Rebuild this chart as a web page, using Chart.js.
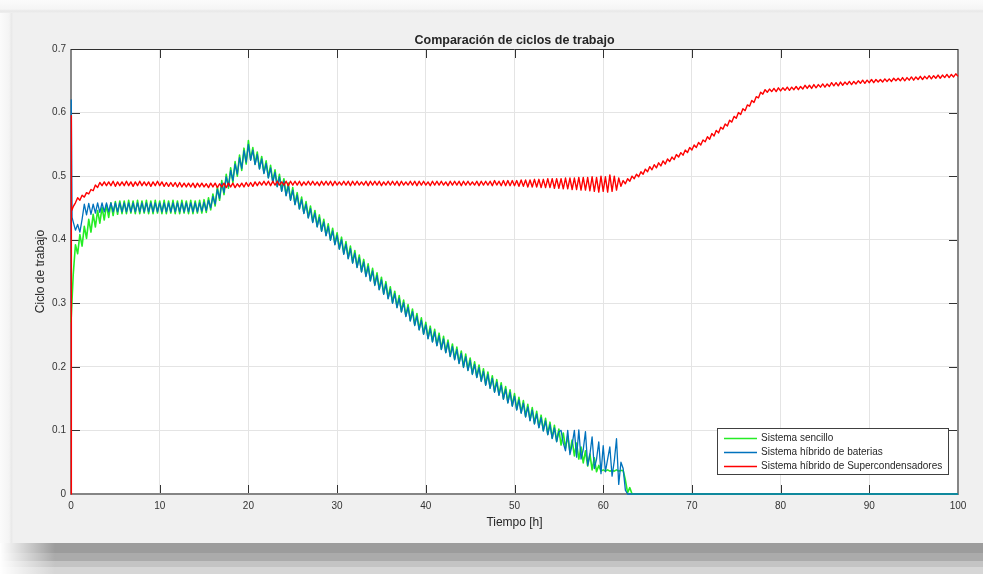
<!DOCTYPE html>
<html lang="es">
<head>
<meta charset="utf-8">
<title>Comparación de ciclos de trabajo</title>
<script src="https://cdn.jsdelivr.net/npm/chart.js@4/dist/chart.umd.min.js"></script>
<style>
  html, body { margin: 0; padding: 0; background: #ffffff; }
  canvas { display: block; }
</style>
</head>
<body>
<canvas id="grafico" width="983" height="574"></canvas>
<script>
// Muestreo uniforme de las señales simuladas (horas)
const INICIO_H = 0.25;
const PASO_H = 0.25;

const ticksTiempo = [0, 10, 20, 30, 40, 50, 60, 70, 80, 90, 100];
const ticksCiclo = [0, 0.1, 0.2, 0.3, 0.4, 0.5, 0.6, 0.7];

const nombresSeries = [
  'Sistema sencillo',
  'Sistema híbrido de baterias',
  'Sistema híbrido de Supercondensadores'
];

// Transitorio de arranque (t, ciclo) antes del primer instante muestreado
const arranqueSencillo = [[0, 0.27]];
const arranqueBaterias = [[0, 0.30], [0.03, 0.62], [0.12, 0.435]];
const arranqueSupercond = [[0, 0], [0.01, 0.595], [0.07, 0.445]];

// Ciclo de trabajo, sistema sencillo (desde INICIO_H cada PASO_H)
const cicloSencillo = [
  // 0.25 – 5.75 h
  0.345, 0.392, 0.378, 0.408, 0.390, 0.421, 0.402, 0.432, 0.412, 0.440,
  0.420, 0.446, 0.426, 0.451, 0.431, 0.455, 0.435, 0.458, 0.438, 0.460,
  0.440, 0.461, 0.441,
  // 6 – 15.25 h
  0.461, 0.441, 0.462, 0.442, 0.461, 0.441, 0.462, 0.441, 0.461, 0.442,
  0.462, 0.441, 0.461, 0.441, 0.462, 0.442, 0.461, 0.441, 0.462, 0.441,
  0.461, 0.442, 0.462, 0.441, 0.461, 0.441, 0.462, 0.442, 0.461, 0.441,
  0.462, 0.441, 0.461, 0.442, 0.462, 0.442, 0.463, 0.443,
  // 15.5 – 20 h
  0.466, 0.447, 0.472, 0.453, 0.483, 0.462, 0.493, 0.471, 0.503, 0.481,
  0.513, 0.490, 0.523, 0.500, 0.533, 0.509, 0.544, 0.519, 0.556,
  // 20.25 – 40 h
  0.526, 0.545, 0.519, 0.538, 0.512, 0.531, 0.505, 0.524, 0.498, 0.517,
  0.491, 0.510, 0.484, 0.503, 0.477, 0.496, 0.470, 0.489, 0.463, 0.482,
  0.456, 0.474, 0.449, 0.467, 0.442, 0.460, 0.435, 0.453, 0.428, 0.446,
  0.421, 0.439, 0.414, 0.432, 0.407, 0.425, 0.400, 0.418, 0.393, 0.411,
  0.386, 0.404, 0.378, 0.397, 0.371, 0.390, 0.364, 0.383, 0.357, 0.376,
  0.350, 0.369, 0.343, 0.362, 0.336, 0.355, 0.329, 0.348, 0.322, 0.341,
  0.315, 0.334, 0.308, 0.326, 0.301, 0.319, 0.294, 0.312, 0.287, 0.305,
  0.280, 0.298, 0.273, 0.291, 0.266, 0.284, 0.259, 0.277, 0.252, 0.270,
  // 40.25 – 59.5 h
  0.245, 0.264, 0.240, 0.259, 0.234, 0.253, 0.228, 0.248, 0.223, 0.242,
  0.217, 0.236, 0.212, 0.231, 0.206, 0.225, 0.200, 0.220, 0.195, 0.214,
  0.189, 0.208, 0.184, 0.203, 0.178, 0.197, 0.172, 0.192, 0.167, 0.186,
  0.161, 0.180, 0.156, 0.175, 0.150, 0.169, 0.144, 0.164, 0.139, 0.158,
  0.133, 0.152, 0.128, 0.147, 0.122, 0.141, 0.116, 0.136, 0.111, 0.130,
  0.105, 0.124, 0.100, 0.119, 0.094, 0.113, 0.088, 0.108, 0.083, 0.102,
  0.077, 0.096, 0.072, 0.091, 0.066, 0.085, 0.060, 0.080, 0.055, 0.074,
  0.049, 0.068, 0.044, 0.063, 0.038, 0.057, 0.035, 0.045,
  // 59.75 – 62.25 h
  0.036, 0.038, 0.036, 0.038, 0.036, 0.037, 0.036, 0.038, 0.036, 0.037,
  0.037,
  // 62.5 – 63.25 h
  0.022, 0.002, 0.010, 0
];

// Ciclo de trabajo, sistema híbrido de baterías
const cicloBaterias = [
  // 0.25 – 5.75 h
  0.428, 0.415, 0.424, 0.412, 0.432, 0.456, 0.439, 0.457, 0.440, 0.456,
  0.442, 0.458, 0.443, 0.458, 0.444, 0.458, 0.444, 0.458, 0.444, 0.458,
  0.444, 0.458, 0.444,
  // 6 – 15.25 h
  0.458, 0.444, 0.458, 0.444, 0.458, 0.444, 0.458, 0.444, 0.458, 0.444,
  0.458, 0.444, 0.458, 0.444, 0.458, 0.444, 0.458, 0.444, 0.458, 0.444,
  0.458, 0.444, 0.458, 0.444, 0.458, 0.444, 0.458, 0.444, 0.458, 0.444,
  0.458, 0.444, 0.458, 0.444, 0.458, 0.445, 0.459, 0.446,
  // 15.5 – 20 h
  0.462, 0.450, 0.468, 0.456, 0.479, 0.465, 0.489, 0.474, 0.499, 0.484,
  0.509, 0.493, 0.519, 0.503, 0.529, 0.512, 0.540, 0.522, 0.550,
  // 20.25 – 40 h
  0.525, 0.541, 0.518, 0.534, 0.511, 0.527, 0.504, 0.520, 0.497, 0.513,
  0.490, 0.506, 0.483, 0.499, 0.476, 0.492, 0.469, 0.485, 0.462, 0.478,
  0.455, 0.470, 0.448, 0.463, 0.441, 0.456, 0.434, 0.449, 0.427, 0.442,
  0.420, 0.435, 0.413, 0.428, 0.406, 0.421, 0.399, 0.414, 0.392, 0.407,
  0.385, 0.400, 0.377, 0.393, 0.370, 0.386, 0.363, 0.379, 0.356, 0.372,
  0.349, 0.365, 0.342, 0.358, 0.335, 0.351, 0.328, 0.344, 0.321, 0.337,
  0.314, 0.330, 0.307, 0.322, 0.300, 0.315, 0.293, 0.308, 0.286, 0.301,
  0.279, 0.294, 0.272, 0.287, 0.265, 0.280, 0.258, 0.273, 0.251, 0.266,
  // 40.25 – 55 h
  0.244, 0.260, 0.239, 0.255, 0.233, 0.249, 0.227, 0.244, 0.222, 0.238,
  0.216, 0.232, 0.211, 0.227, 0.205, 0.221, 0.199, 0.216, 0.194, 0.210,
  0.188, 0.204, 0.183, 0.199, 0.177, 0.193, 0.171, 0.188, 0.166, 0.182,
  0.160, 0.176, 0.155, 0.171, 0.149, 0.165, 0.143, 0.160, 0.138, 0.154,
  0.132, 0.148, 0.127, 0.143, 0.121, 0.137, 0.115, 0.132, 0.110, 0.126,
  0.104, 0.120, 0.099, 0.115, 0.093, 0.109, 0.087, 0.104, 0.082, 0.098,
  // 55.25 – 62.25 h (picos de conmutación)
  0.100, 0.080, 0.068, 0.100, 0.062, 0.078, 0.100, 0.058, 0.101, 0.055,
  0.070, 0.098, 0.045, 0.062, 0.090, 0.040, 0.055, 0.082, 0.032, 0.076,
  0.035, 0.055, 0.074, 0.028, 0.052, 0.087, 0.015, 0.050, 0.040,
  // 62.5 – 63.25 h
  0.006, 0, 0, 0
];

// Ciclo de trabajo, sistema híbrido de supercondensadores
const cicloSupercond = [
  // 0.25 – 3.75 h
  0.452, 0.458, 0.466, 0.462, 0.470, 0.467, 0.474, 0.472, 0.479, 0.477,
  0.486, 0.482, 0.490, 0.485, 0.491,
  // 4 – 12.75 h
  0.485, 0.491, 0.485, 0.492, 0.484, 0.491, 0.485, 0.491, 0.485, 0.492,
  0.485, 0.491, 0.484, 0.491, 0.485, 0.492, 0.485, 0.491, 0.485, 0.491,
  0.484, 0.491, 0.485, 0.492, 0.485, 0.491, 0.484, 0.490, 0.484, 0.490,
  0.484, 0.490, 0.483, 0.490, 0.483, 0.489,
  // 13 – 21.25 h
  0.483, 0.489, 0.483, 0.489, 0.482, 0.489, 0.483, 0.489, 0.483, 0.488,
  0.482, 0.489, 0.483, 0.489, 0.482, 0.488, 0.483, 0.489, 0.482, 0.489,
  0.483, 0.489, 0.482, 0.488, 0.483, 0.489, 0.483, 0.490, 0.484, 0.490,
  0.484, 0.491, 0.485, 0.491,
  // 21.5 – 49.75 h
  0.486, 0.492, 0.486, 0.492, 0.485, 0.492, 0.486, 0.492, 0.486, 0.491,
  0.486, 0.492, 0.485, 0.492, 0.486, 0.492, 0.486, 0.492, 0.485, 0.491,
  0.486, 0.492, 0.486, 0.492, 0.486, 0.491, 0.485, 0.492, 0.486, 0.492,
  0.486, 0.492, 0.485, 0.492, 0.486, 0.491, 0.486, 0.492, 0.486, 0.492,
  0.485, 0.492, 0.486, 0.492, 0.486, 0.491, 0.486, 0.492, 0.485, 0.492,
  0.486, 0.492, 0.486, 0.492, 0.485, 0.491, 0.486, 0.492, 0.486, 0.492,
  0.486, 0.492, 0.485, 0.492, 0.486, 0.491, 0.486, 0.492, 0.486, 0.492,
  0.485, 0.492, 0.486, 0.492, 0.486, 0.491, 0.485, 0.492, 0.486, 0.492,
  0.486, 0.492, 0.486, 0.491, 0.485, 0.492, 0.486, 0.492, 0.486, 0.492,
  0.485, 0.492, 0.486, 0.492, 0.486, 0.491, 0.486, 0.492, 0.485, 0.492,
  0.486, 0.492, 0.486, 0.492, 0.485, 0.493, 0.486, 0.492, 0.485, 0.493,
  0.485, 0.493, 0.485, 0.493,
  // 50 – 54.75 h
  0.485, 0.493, 0.484, 0.494, 0.484, 0.494, 0.483, 0.494, 0.483, 0.495,
  0.483, 0.495, 0.482, 0.495, 0.482, 0.496, 0.482, 0.496, 0.481, 0.496,
  // 55 – 57.75 h
  0.481, 0.496, 0.480, 0.497, 0.480, 0.497, 0.479, 0.497, 0.479, 0.498,
  0.478, 0.498,
  // 58 – 62 h
  0.478, 0.498, 0.477, 0.499, 0.476, 0.498, 0.475, 0.500, 0.476, 0.499,
  0.475, 0.502, 0.476, 0.500, 0.478, 0.497, 0.484,
  // 62.25 – 78 h
  0.493, 0.488, 0.496, 0.492, 0.500, 0.496, 0.503, 0.499, 0.507, 0.503,
  0.511, 0.507, 0.515, 0.510, 0.518, 0.513, 0.521, 0.516, 0.524, 0.519,
  0.527, 0.523, 0.530, 0.526, 0.534, 0.530, 0.537, 0.533, 0.541, 0.537,
  0.545, 0.541, 0.549, 0.545, 0.553, 0.549, 0.557, 0.554, 0.562, 0.558,
  0.567, 0.563, 0.572, 0.568, 0.577, 0.574, 0.582, 0.579, 0.588, 0.585,
  0.594, 0.591, 0.600, 0.597, 0.606, 0.603, 0.612, 0.610, 0.619, 0.616,
  0.625, 0.623, 0.632, 0.629,
  // 78.25 – 100 h
  0.636, 0.632, 0.637, 0.633,
  0.638, 0.633, 0.639, 0.634, 0.639, 0.635, 0.640, 0.635,
  0.640, 0.636, 0.641, 0.636, 0.641, 0.637, 0.643, 0.638,
  0.643, 0.638, 0.644, 0.639, 0.644, 0.640, 0.645, 0.640,
  0.645, 0.641, 0.647, 0.642, 0.647, 0.642, 0.648, 0.643,
  0.648, 0.644, 0.649, 0.644, 0.649, 0.645, 0.650, 0.646,
  0.651, 0.646, 0.651, 0.647, 0.652, 0.647, 0.652, 0.648,
  0.652, 0.648, 0.653, 0.649, 0.653, 0.649, 0.654, 0.650,
  0.654, 0.650, 0.655, 0.650, 0.655, 0.651, 0.656, 0.651,
  0.656, 0.652, 0.657, 0.652, 0.657, 0.653, 0.658, 0.653,
  0.658, 0.654, 0.659, 0.654, 0.659, 0.655, 0.660, 0.655,
  0.660, 0.656, 0.661, 0.657
];

// Tramo final tras la descarga completa (t, ciclo)
const finSencillo = [[100, 0]];
const finBaterias = [[100, 0]];
const finSupercond = [];

const FUENTE = '"Liberation Sans", Arial, Helvetica, sans-serif';

function serie(arranque, muestras, fin) {
  return [
    ...arranque.map(([x, y]) => ({ x, y })),
    ...muestras.map((y, i) => ({ x: INICIO_H + i * PASO_H, y })),
    ...fin.map(([x, y]) => ({ x, y }))
  ];
}

// Fondo de la figura con su sombra y el área de ejes en blanco
const fondoFigura = {
  id: 'fondoFigura',
  beforeDraw(chart) {
    const { ctx, width: W, height: H, chartArea: a } = chart;
    ctx.save();
    ctx.fillStyle = '#f0f0f0';
    ctx.fillRect(0, 0, W, H);

    let g = ctx.createLinearGradient(0, 0, 0, 13);
    g.addColorStop(0, '#fbfbfb');
    g.addColorStop(0.7, '#f5f5f5');
    g.addColorStop(0.85, '#e8e8e8');
    g.addColorStop(1, '#efefef');
    ctx.fillStyle = g;
    ctx.fillRect(0, 0, W, 13);

    g = ctx.createLinearGradient(0, 0, 13, 0);
    g.addColorStop(0, '#fbfbfb');
    g.addColorStop(0.7, '#f4f4f4');
    g.addColorStop(0.88, '#e9e9e9');
    g.addColorStop(1, '#efefef');
    ctx.fillStyle = g;
    ctx.fillRect(0, 13, 13, 530);

    const bandas = [[543, 553, '#9c9c9c'], [553, 561, '#ababab'], [561, 567, '#c4c4c4'], [567, H, '#d6d6d6']];
    bandas.forEach(([y0, y1, c]) => { ctx.fillStyle = c; ctx.fillRect(0, y0, W, y1 - y0); });
    g = ctx.createLinearGradient(0, 0, 55, 0);
    g.addColorStop(0, 'rgba(255,255,255,1)');
    g.addColorStop(1, 'rgba(255,255,255,0)');
    ctx.fillStyle = g;
    ctx.fillRect(0, 543, 55, H - 543);

    ctx.fillStyle = '#ffffff';
    ctx.fillRect(a.left, a.top, a.right - a.left, a.bottom - a.top);
    ctx.restore();
  }
};

// Caja de ejes y marcas hacia dentro en los cuatro lados
const cajaEjes = {
  id: 'cajaEjes',
  beforeDatasetsDraw(chart) {
    const { ctx, chartArea: a, scales: { x, y } } = chart;
    const L = 9;
    ctx.save();
    ctx.strokeStyle = '#333333';
    ctx.lineWidth = 1;
    ctx.beginPath();
    ticksTiempo.forEach(v => {
      const px = Math.round(x.getPixelForValue(v)) + 0.5;
      ctx.moveTo(px, a.bottom); ctx.lineTo(px, a.bottom - L);
      ctx.moveTo(px, a.top); ctx.lineTo(px, a.top + L);
    });
    ticksCiclo.forEach(v => {
      const py = Math.round(y.getPixelForValue(v)) + 0.5;
      ctx.moveTo(a.left, py); ctx.lineTo(a.left + L, py);
      ctx.moveTo(a.right, py); ctx.lineTo(a.right - L, py);
    });
    ctx.stroke();

    ctx.strokeStyle = '#858585';
    ctx.lineWidth = 2;
    ctx.beginPath();
    ctx.moveTo(a.left, a.top); ctx.lineTo(a.left, a.bottom);
    ctx.lineTo(a.right, a.bottom); ctx.lineTo(a.right, a.top);
    ctx.stroke();

    ctx.strokeStyle = '#2f2f2f';
    ctx.lineWidth = 1;
    ctx.beginPath();
    ctx.moveTo(a.left, Math.round(a.top) + 0.5); ctx.lineTo(a.right, Math.round(a.top) + 0.5);
    ctx.stroke();
    ctx.restore();
  }
};

// Leyenda dentro del área de ejes, esquina inferior derecha
const leyendaInterior = {
  id: 'leyendaInterior',
  afterDraw(chart) {
    const { ctx, chartArea: a } = chart;
    const sets = chart.data.datasets;
    ctx.save();
    ctx.font = '10px ' + FUENTE;
    const anchoTexto = Math.max(...sets.map(d => ctx.measureText(d.label).width));
    const w = Math.round(7 + 33 + 4 + anchoTexto + 6);
    const h = 46;
    const x0 = Math.round(a.right - 10 - w);
    const y0 = Math.round(a.bottom - 20 - h);
    ctx.fillStyle = '#ffffff';
    ctx.fillRect(x0, y0, w, h);
    ctx.strokeStyle = '#404040';
    ctx.lineWidth = 1;
    ctx.strokeRect(x0 + 0.5, y0 + 0.5, w, h);
    sets.forEach((d, i) => {
      const yy = Math.round(y0 + 10 + i * 13.8) + 0.5;
      ctx.strokeStyle = d.borderColor;
      ctx.lineWidth = 1.3;
      ctx.beginPath();
      ctx.moveTo(x0 + 7, yy);
      ctx.lineTo(x0 + 40, yy);
      ctx.stroke();
      ctx.fillStyle = '#262626';
      ctx.textBaseline = 'middle';
      ctx.textAlign = 'left';
      ctx.fillText(d.label, x0 + 44, yy);
    });
    ctx.restore();
  }
};

// Recorte holgado para que las trazas sobre los bordes de los ejes se vean enteras
const lineaBase = { pointRadius: 0, tension: 0, fill: false, borderJoinStyle: 'round', clip: 3 };

new Chart(document.getElementById('grafico'), {
  type: 'line',
  data: {
    datasets: [
      { ...lineaBase, label: nombresSeries[0], data: serie(arranqueSencillo, cicloSencillo, finSencillo),
        borderColor: '#25ec25', borderWidth: 1.6, order: 3 },
      { ...lineaBase, label: nombresSeries[1], data: serie(arranqueBaterias, cicloBaterias, finBaterias),
        borderColor: '#0072bd', borderWidth: 1.3, order: 2 },
      { ...lineaBase, label: nombresSeries[2], data: serie(arranqueSupercond, cicloSupercond, finSupercond),
        borderColor: '#ff0000', borderWidth: 1.4, order: 1 }
    ]
  },
  options: {
    responsive: false,
    animation: false,
    devicePixelRatio: 1,
    events: [],
    layout: { padding: { left: 0, right: 25, top: 0, bottom: 0 } },
    plugins: {
      legend: { display: false },
      tooltip: { enabled: false },
      title: {
        display: true,
        text: 'Comparación de ciclos de trabajo',
        fullSize: false,
        color: '#262626',
        font: { family: FUENTE, size: 12.5, weight: 'bold' },
        padding: { top: 33, bottom: 1 }
      }
    },
    scales: {
      x: {
        type: 'linear',
        min: 0,
        max: 100,
        afterBuildTicks: s => { s.ticks = ticksTiempo.map(v => ({ value: v })); },
        afterFit: s => { s.height = 80; },
        ticks: { color: '#333333', font: { family: FUENTE, size: 10 }, padding: 6, maxRotation: 0, autoSkip: false,
                 callback: v => String(v) },
        grid: { color: '#e4e4e4', lineWidth: 1, drawTicks: false },
        border: { display: false },
        title: { display: true, text: 'Tiempo [h]', color: '#262626', font: { family: FUENTE, size: 12 },
                 padding: { top: 0, bottom: 43.8 } }
      },
      y: {
        type: 'linear',
        min: 0,
        max: 0.7,
        afterBuildTicks: s => { s.ticks = ticksCiclo.map(v => ({ value: v })); },
        afterFit: s => { s.width = 71; },
        ticks: { color: '#333333', font: { family: FUENTE, size: 10 }, padding: 5, autoSkip: false,
                 callback: v => String(Math.round(v * 10) / 10) },
        grid: { color: '#e4e4e4', lineWidth: 1, drawTicks: false },
        border: { display: false },
        title: { display: true, text: 'Ciclo de trabajo', color: '#262626', font: { family: FUENTE, size: 12 },
                 padding: { top: 33, bottom: 0 } }
      }
    }
  },
  plugins: [fondoFigura, cajaEjes, leyendaInterior]
});
</script>
</body>
</html>
